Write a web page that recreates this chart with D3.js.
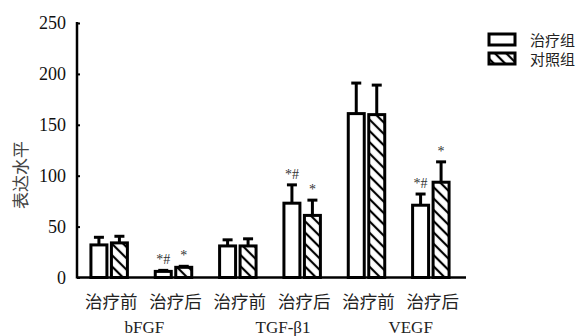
<!DOCTYPE html>
<html>
<head>
<meta charset="utf-8">
<script src="https://cdn.jsdelivr.net/npm/d3@7"></script>
<style>
  body { margin: 0; background: #fff; }
  svg { display: block; }
</style>
</head>
<body>
<div id="chart"></div>
<script>
// data
const groups = ['bFGF', 'TGF-β1', 'VEGF']
const phases = ['治疗前', '治疗后']
const series = ['治疗组', '对照组']
const treatMean = [32, 6, 31, 73, 161, 71]
const treatErr = [7.5, 1, 6, 18, 30, 11]
const ctrlMean = [34, 10, 31, 61, 160, 93.6]
const ctrlErr = [6.5, 1, 7, 15, 29, 20]
const treatMark = ['', '*#', '', '*#', '', '*#']
const ctrlMark = ['', '*', '', '*', '', '*']
const yTicks = [0, 50, 100, 150, 200, 250]

const W = 588, H = 336
const m = { left: 77, right: 125, top: 23, bottom: 58 }

const cats = groups.flatMap(g => phases.map(p => g + '|' + p))

const svg = d3.select('#chart').append('svg')
  .attr('width', W).attr('height', H)

// diagonal hatch for the control group
const pat = svg.append('defs').append('pattern')
  .attr('id', 'hatch')
  .attr('patternUnits', 'userSpaceOnUse')
  .attr('width', 8).attr('height', 8)
  .attr('patternTransform', 'rotate(45)')
pat.append('rect').attr('width', 8).attr('height', 8).attr('fill', '#fff')
pat.append('line')
  .attr('x1', 0).attr('y1', 4).attr('x2', 8).attr('y2', 4)
  .attr('stroke', '#000').attr('stroke-width', 2.2)

const x = d3.scaleBand().domain(cats).range([m.left, W - m.right]).padding(0)
const xs = d3.scaleBand().domain(series).range([0, x.bandwidth()]).paddingInner(0.22).paddingOuter(0.68)
const y = d3.scaleLinear().domain([0, 250]).range([H - m.bottom - 0.5, m.top])

const serif = '"Liberation Serif", "Times New Roman", serif'
const cjk = '"Noto Sans CJK SC", sans-serif'

// y axis
const yAxis = svg.append('g')
  .attr('transform', `translate(${m.left},0)`)
  .call(d3.axisLeft(y).tickValues(yTicks).tickSize(-3).tickPadding(11))
yAxis.select('.domain').remove()
yAxis.selectAll('.tick line').attr('stroke', '#000').attr('stroke-width', 2)
yAxis.selectAll('.tick text')
  .style('font-family', serif).style('font-size', '18px').attr('fill', '#111')

svg.append('line')
  .attr('x1', m.left).attr('x2', m.left)
  .attr('y1', y(250) - 1).attr('y2', y(0) + 1)
  .attr('stroke', '#000').attr('stroke-width', 2.5)
svg.append('line')
  .attr('x1', m.left).attr('x2', W - m.right + 3)
  .attr('y1', y(0)).attr('y2', y(0))
  .attr('stroke', '#000').attr('stroke-width', 2.5)

// y label
svg.append('text')
  .attr('transform', `translate(27,175) rotate(-90)`)
  .attr('text-anchor', 'middle')
  .style('font-family', cjk).style('font-size', '17px').attr('fill', '#444')
  .text('表达水平')

// bars
const data = cats.flatMap((c, i) => [
  { c, s: series[0], v: treatMean[i], e: treatErr[i], mark: treatMark[i], fill: '#fff' },
  { c, s: series[1], v: ctrlMean[i], e: ctrlErr[i], mark: ctrlMark[i], fill: 'url(#hatch)' }
])

const bar = svg.append('g').selectAll('g').data(data).join('g')
  .attr('transform', d => `translate(${x(d.c) + xs(d.s)},0)`)

// error bars (upper only)
bar.append('line')
  .attr('x1', xs.bandwidth() / 2).attr('x2', xs.bandwidth() / 2)
  .attr('y1', d => y(d.v)).attr('y2', d => y(d.v + d.e))
  .attr('stroke', '#000').attr('stroke-width', 3)
bar.append('line')
  .attr('x1', xs.bandwidth() / 2 - 5).attr('x2', xs.bandwidth() / 2 + 5)
  .attr('y1', d => y(d.v + d.e)).attr('y2', d => y(d.v + d.e))
  .attr('stroke', '#000').attr('stroke-width', 3)

bar.append('rect')
  .attr('x', 0)
  .attr('y', d => y(d.v))
  .attr('width', xs.bandwidth())
  .attr('height', d => y(0) - y(d.v))
  .attr('fill', d => d.fill)
  .attr('stroke', '#000').attr('stroke-width', 3)

bar.append('text')
  .attr('x', xs.bandwidth() / 2)
  .attr('y', d => y(d.v + d.e) - 6)
  .attr('text-anchor', 'middle')
  .style('font-family', serif).style('font-size', '14px').attr('fill', '#333')
  .text(d => d.mark)

// category labels
svg.append('g').selectAll('text').data(cats).join('text')
  .attr('x', d => x(d) + x.bandwidth() / 2 + 2)
  .attr('y', 308)
  .attr('text-anchor', 'middle')
  .style('font-family', cjk).style('font-size', '17.5px').attr('fill', '#222')
  .text(d => d.split('|')[1])

// group labels sit a little right of the pair centre in the original
const groupShift = [3, 13, 12]
svg.append('g').selectAll('text').data(groups).join('text')
  .attr('x', (d, i) => x(d + '|' + phases[0]) + x.bandwidth() + groupShift[i])
  .attr('y', 333)
  .attr('text-anchor', 'middle')
  .style('font-family', serif).style('font-size', '17px').attr('fill', '#222')
  .text(d => d)

// legend
const leg = svg.append('g').attr('transform', 'translate(489,34)')
const li = leg.selectAll('g').data(series).join('g')
  .attr('transform', (d, i) => `translate(0,${i * 19})`)
li.append('rect')
  .attr('width', 26).attr('height', 11)
  .attr('fill', (d, i) => i ? 'url(#hatch)' : '#fff')
  .attr('stroke', '#000').attr('stroke-width', 3)
li.append('text')
  .attr('x', 41).attr('y', 11.5)
  .style('font-family', cjk).style('font-size', '15px').attr('fill', '#222')
  .text(d => d)
</script>
</body>
</html>
